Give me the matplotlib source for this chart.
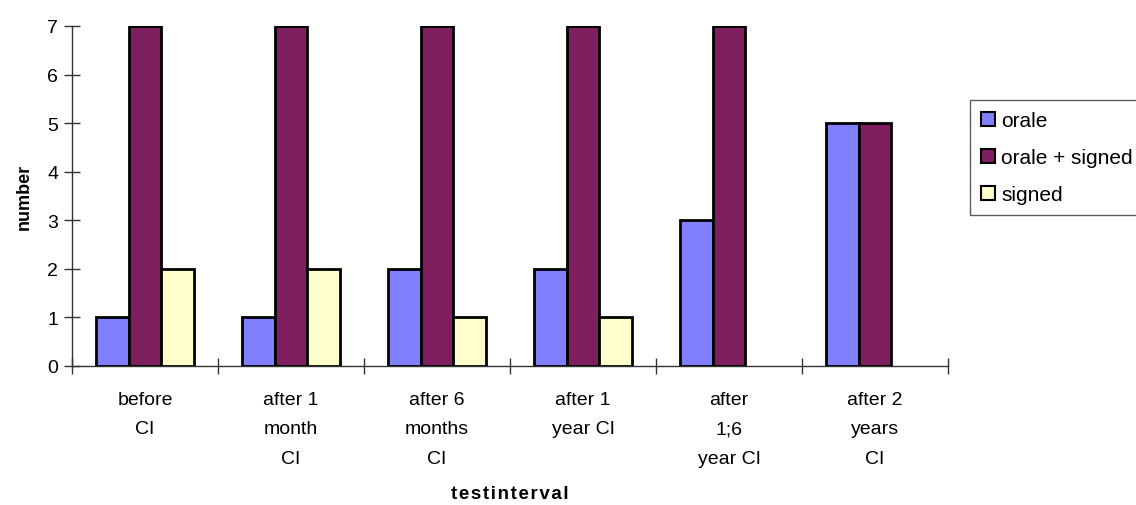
import numpy as np
import matplotlib
matplotlib.use("Agg")
import matplotlib.pyplot as plt
from matplotlib.patches import Patch

plt.rcParams['font.family'] = ['Liberation Sans', 'DejaVu Sans']

categories = ["before\nCI", "after 1\nmonth\nCI", "after 6\nmonths\nCI",
              "after 1\nyear CI", "after\n1;6\nyear CI", "after 2\nyears\nCI"]
orale = [1, 1, 2, 2, 3, 5]
orale_signed = [7, 7, 7, 7, 7, 5]
signed = [2, 2, 1, 1, 0, 0]

series = [("orale", orale, "#8080FF"),
          ("orale + signed", orale_signed, "#7F1F5F"),
          ("signed", signed, "#FFFFCC")]

fig = plt.figure(figsize=(11.36, 5.06), dpi=100)
ax = fig.add_axes([72/1136, (506-367)/506, (948-72)/1136, 340/506])

x = np.arange(len(categories))
group = 1/1.5
w = group/3
for i, (name, vals, col) in enumerate(series):
    v = np.array(vals, dtype=float)
    mask = v > 0
    ax.bar(x[mask] + (i - 1)*w, v[mask], width=w, color=col,
           edgecolor="black", linewidth=2, zorder=3)

ax.set_xlim(-0.5, len(categories) - 0.5)
ax.set_ylim(0, 7)
ax.set_yticks(range(8))
ax.set_xticks(np.arange(len(categories) + 1) - 0.5)
ax.set_xticklabels([])
ax.set_xticks(x, minor=True)
ax.set_xticklabels(categories, minor=True, fontsize=14, linespacing=1.95,
                   va="top")
ax.tick_params(axis="x", which="minor", length=0, pad=18)
ax.tick_params(axis="x", which="major", direction="inout", length=12,
               width=1, color="#333333")
ax.tick_params(axis="y", direction="inout", length=12, width=1,
               color="#333333", labelsize=14, pad=4)

for s in ["top", "right"]:
    ax.spines[s].set_visible(False)
for s in ["left", "bottom"]:
    ax.spines[s].set_color("#333333")
    ax.spines[s].set_linewidth(1)

ax.set_ylabel("number", fontsize=13, fontweight="bold", labelpad=10)
ax.set_xlabel("t e s t i n t e r v a l".replace(" ", "\u200a"), fontsize=13.5,
              fontweight="bold", labelpad=13)

handles = [Patch(facecolor=c, edgecolor="black", linewidth=1.5, label=n)
           for n, _, c in series]
leg = fig.legend(handles=handles, loc="upper left",
                 bbox_to_anchor=(970/1136, 1 - 101/506),
                 frameon=True, fancybox=False, fontsize=15,
                 handlelength=0.65, handleheight=0.65, handletextpad=0.3,
                 labelspacing=0.85, borderpad=0.55, borderaxespad=0)
leg.get_frame().set_edgecolor("#333333")
leg.get_frame().set_linewidth(1)

fig.savefig("out.png", dpi=100)
